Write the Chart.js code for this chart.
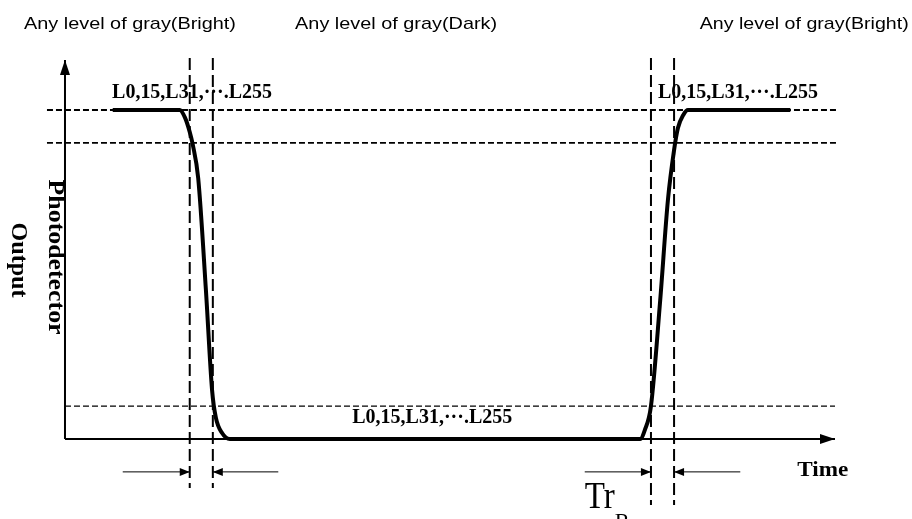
<!DOCTYPE html>
<html lang="en">
<head>
<meta charset="UTF-8">
<script src="https://cdn.jsdelivr.net/npm/chart.js"></script>
<title>Response time</title>
<style>
  html, body { margin: 0; padding: 0; background: #fff; }
  #wrap { width: 912px; height: 519px; }
</style>
</head>
<body>
<div id="wrap"><canvas id="myChart"></canvas></div>
<script>
// time: 0 at the vertical axis, 100 at the arrow tip
// output: 0 = dark level, 100 = bright level
const responseT = [6.2, 14.9, 15.6, 16.2, 16.6, 17.3, 18.3, 19.1, 19.6, 20.4, 21.4,
                   74.7, 75.3, 76.1, 77.3, 78.3, 79.1, 79.6, 80.3, 80.9, 94.2];
const responseV = [100, 100, 97.6, 93.3, 89.4, 79.3, 45.3, 14.9, 6.4, 1.8, 0,
                   0, 2.7, 10, 42.2, 72.6, 87.8, 94.5, 98.5, 100, 100];
const levelLines = [100, 90, 10];          // 100%, 90%, 10% of output
const crossT = [16.2, 19.2, 76.1, 79.1];   // 90%/10% crossings
const dimFrom = [7.5, 27.7, 67.5, 87.7];   // dimension arrows start, end at crossT
const grayLabels = ['Any level of gray(Bright)', 'Any level of gray(Dark)', 'Any level of gray(Bright)'];
const levelLabel = 'L0,15,L31,\u00b7\u00b7\u00b7.L255';
const axisLabels = ['Photodetector', 'Output', 'Time'];
const riseLabel = ['Tr', 'R'];

function pts(xs, ys) {
    return xs.map(function (x, i) { return { x: x, y: ys[i] }; });
}

let datasets = [];
datasets.push({
    data: pts(responseT, responseV),
    borderColor: '#000', borderWidth: 4,
    cubicInterpolationMode: 'monotone', borderJoinStyle: 'round'
});
levelLines.forEach(function (lv) {
    let x0 = lv == 10 ? 0 : -2.34;
    let x1 = lv == 10 ? 100 : 100.4;
    datasets.push({
        data: [{ x: x0, y: lv }, { x: x1, y: lv }],
        borderColor: '#000', borderWidth: lv == 10 ? 1.2 : 1.8, borderDash: [6, 3]
    });
});
crossT.forEach(function (t, i) {
    datasets.push({
        data: [{ x: t, y: 115.8 }, { x: t, y: i < 2 ? -14.9 : -20.1 }],
        borderColor: '#000', borderWidth: 2, borderDash: [12, 5]
    });
});
// axes
datasets.push({ data: [{ x: 0, y: 0 }, { x: 0, y: 115.2 }], borderColor: '#000', borderWidth: 2, arrow: [15, 5] });
datasets.push({ data: [{ x: 0, y: 0 }, { x: 100, y: 0 }], borderColor: '#000', borderWidth: 2, arrow: [15, 5] });
// dimension arrows
dimFrom.forEach(function (t, i) {
    datasets.push({
        data: [{ x: t, y: -10 }, { x: crossT[i], y: -10 }],
        borderColor: '#000', borderWidth: 1, arrow: [10, 4]
    });
});

function fitText(ctx, text, font, x, y, w, rot) {
    ctx.save();
    ctx.font = font;
    let sx = w / ctx.measureText(text).width;
    ctx.translate(x, y);
    if (rot) ctx.rotate(rot);
    ctx.scale(sx, 1);
    ctx.fillText(text, 0, 0);
    ctx.restore();
}

const decor = {
    id: 'decor',
    afterDatasetsDraw: function (chart) {
        let ctx = chart.ctx;
        let xs = chart.scales.x, ys = chart.scales.y;
        let px = function (v) { return xs.getPixelForValue(v); };
        let py = function (v) { return ys.getPixelForValue(v); };
        ctx.save();
        ctx.fillStyle = '#000';
        // arrow heads
        chart.data.datasets.forEach(function (ds) {
            if (!ds.arrow) return;
            let a = ds.data[0], b = ds.data[ds.data.length - 1];
            let x1 = px(b.x), y1 = py(b.y);
            let ang = Math.atan2(y1 - py(a.y), x1 - px(a.x));
            let len = ds.arrow[0], half = ds.arrow[1];
            ctx.save();
            ctx.translate(x1, y1);
            ctx.rotate(ang);
            ctx.beginPath();
            ctx.moveTo(0, 0);
            ctx.lineTo(-len, -half);
            ctx.lineTo(-len, half);
            ctx.closePath();
            ctx.fill();
            ctx.restore();
        });
        ctx.textBaseline = 'alphabetic';
        ctx.textAlign = 'center';
        let sans = '17px "Liberation Sans", Arial, sans-serif';
        fitText(ctx, grayLabels[0], sans, px(8.44), py(124.6), 212);
        fitText(ctx, grayLabels[1], sans, px(43.0), py(124.6), 202);
        fitText(ctx, grayLabels[2], sans, px(96.0), py(124.6), 209);
        let serifB = 'bold 21px "Liberation Serif", "Times New Roman", serif';
        fitText(ctx, levelLabel, serifB, px(16.5), py(103.6), 160);
        fitText(ctx, levelLabel, serifB, px(87.4), py(103.6), 160);
        fitText(ctx, levelLabel, serifB, px(47.7), py(4.9), 160);
        let serifY = 'bold 23px "Liberation Serif", "Times New Roman", serif';
        fitText(ctx, axisLabels[0], serifY, px(-2.05), py(55.3), 155, Math.PI / 2);
        fitText(ctx, axisLabels[1], serifY, px(-6.9), py(54.4), 75, Math.PI / 2);
        ctx.textAlign = 'left';
        fitText(ctx, axisLabels[2], serifB, px(95.1), py(-11.2), 51);
        fitText(ctx, riseLabel[0], '38px "Liberation Serif", "Times New Roman", serif', px(67.5), py(-21.0), 30);
        fitText(ctx, riseLabel[1], '22px "Liberation Serif", "Times New Roman", serif', px(71.4), py(-27.0), 15);
        ctx.restore();
    }
};

new Chart(document.getElementById('myChart'), {
    type: 'line',
    data: { datasets: datasets },
    options: {
        responsive: true,
        maintainAspectRatio: false,
        animation: false,
        layout: { padding: 0 },
        elements: { point: { radius: 0, hoverRadius: 0 }, line: { fill: false } },
        scales: {
            x: { type: 'linear', min: -8.44, max: 110, display: false },
            y: { type: 'linear', min: -24.32, max: 133.43, display: false }
        },
        plugins: { legend: { display: false }, tooltip: { enabled: false } }
    },
    plugins: [decor]
});
</script>
</body>
</html>
